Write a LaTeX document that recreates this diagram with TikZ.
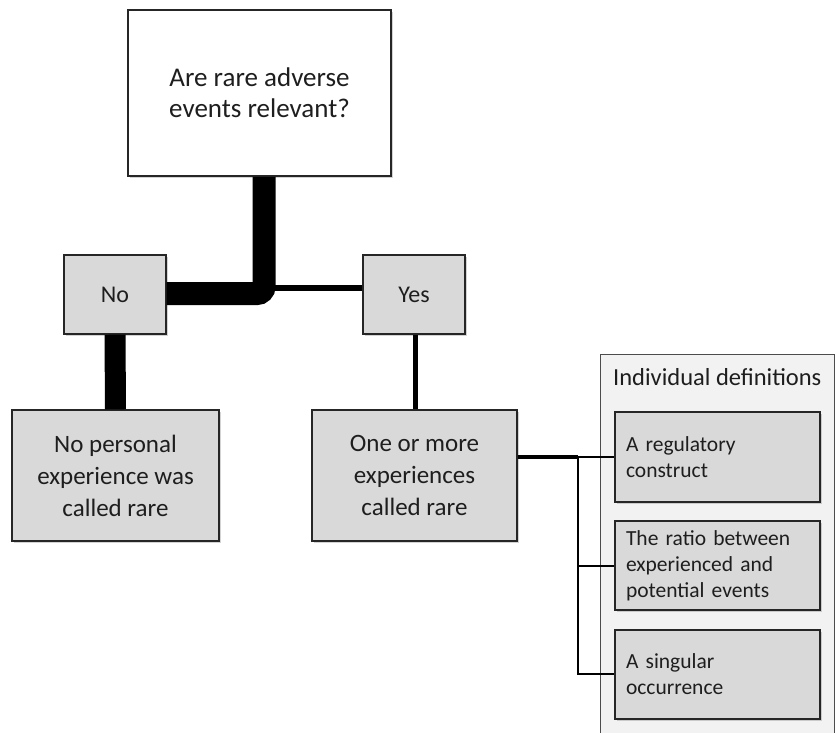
\documentclass[tikz,border=0pt]{standalone}
\usepackage{fontspec}
\setmainfont{Carlito}
\usetikzlibrary{shadows}
\definecolor{boxgray}{HTML}{D9D9D9}
\definecolor{panelgray}{HTML}{F2F2F2}
\definecolor{txt}{HTML}{1E1E1E}
\begin{document}
\begin{tikzpicture}[x=1pt,y=-1pt,
  box/.style={draw=black!85, line width=1.4pt, fill=boxgray, rectangle, inner sep=0pt,
    drop shadow={shadow xshift=1.5pt, shadow yshift=-1.8pt, opacity=0.35}, text=txt, align=center},
  defbox/.style={box, minimum width=205pt, text width=183pt, align=left},
  conn/.style={draw=black}
]
\useasboundingbox (0,0) rectangle (836,732);
% panel
\begin{scope}
\clip (0,0) rectangle (836,732);
\node[draw=black!70, line width=0.9pt, fill=panelgray, rectangle, minimum width=234pt, minimum height=390pt, anchor=north west, inner sep=0pt] (panel) at (600,354) {};
\end{scope}
\node[text=txt, font=\fontsize{24.5}{29}\selectfont, anchor=base west, inner sep=0pt] (ptitle) at (613,385) {Individual definitions};

% nodes
\node[box, fill=white, line width=1.8pt, minimum width=263pt, minimum height=166pt,
  font=\fontsize{27}{31}\selectfont] (top) at (259.5,93) {Are rare adverse\\events relevant?};
\node[box, minimum width=102pt, minimum height=79pt, font=\fontsize{24}{28}\selectfont] (no) at (115,294.5) {No};
\node[box, minimum width=102pt, minimum height=79pt, font=\fontsize{24}{28}\selectfont] (yes) at (414,294.5) {Yes};
\node[box, minimum width=207pt, minimum height=131pt, font=\fontsize{25}{32}\selectfont] (nop) at (115.5,475.5) {No personal\\experience was\\called rare};
\node[box, minimum width=205pt, minimum height=131pt, font=\fontsize{25}{32}\selectfont] (one) at (414.5,475.5) {One or more\\experiences\\called rare};
\node[defbox, minimum height=90pt, font=\fontsize{21.5}{26}\selectfont] (d1) at (717.5,457) {A regulatory\\construct};
\node[defbox, minimum height=89pt, font=\fontsize{21.5}{26}\selectfont] (d2) at (717.5,565.5) {The ratio between\\experienced and\\potential events};
\node[defbox, minimum height=89pt, font=\fontsize{21.5}{26}\selectfont] (d3) at (717.5,674.5) {A singular\\occurrence};

% connectors
\coordinate (corner) at (264,293.5);
\coordinate (tee) at (264,287.5);
\draw[conn, line width=23pt, rounded corners=7pt] ([xshift=4.5pt]top.south) -- (corner) -- (no.east |- corner);
\draw[conn, line width=6pt] (tee) -- (yes.west |- tee);
\draw[conn, line width=21pt] (no.south) -- (nop.north);
\draw[conn, line width=5pt] ([xshift=1.5pt]yes.south) -- ([xshift=1pt]one.north);
\coordinate (br) at (578,457);
\coordinate (b2) at (578,566);
\coordinate (b3) at (578,674);
\draw[conn, line width=4pt] (one.east |- br) -- (br);
\draw[conn, line width=2.6pt] (br) -- (d1.west |- br);
\draw[conn, line width=2pt] ([yshift=-1pt]br) -- (b2);
\draw[conn, line width=1.3pt] (b2) -- (b3);
\draw[conn, line width=1.2pt] (b2) -- (d2.west |- b2);
\draw[conn, line width=1.2pt] ([xshift=-0.6pt]b3) -- (d3.west |- b3);
\end{tikzpicture}
\end{document}
